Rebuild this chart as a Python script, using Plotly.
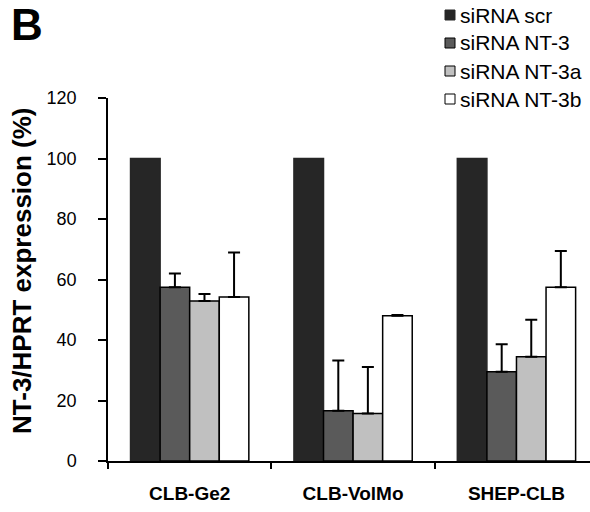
import plotly.graph_objects as go

categories = ["CLB-Ge2", "CLB-VolMo", "SHEP-CLB"]
series_names = ["siRNA scr", "siRNA NT-3", "siRNA NT-3a", "siRNA NT-3b"]
values = {
    "siRNA scr": [100, 100, 100],
    "siRNA NT-3": [57.4, 16.6, 29.5],
    "siRNA NT-3a": [52.9, 15.7, 34.5],
    "siRNA NT-3b": [54.2, 48.0, 57.4],
}
errors = {
    "siRNA scr": [0, 0, 0],
    "siRNA NT-3": [4.6, 16.6, 9.1],
    "siRNA NT-3a": [2.3, 15.4, 12.2],
    "siRNA NT-3b": [14.7, 0.3, 12.0],
}
colors = {
    "siRNA scr": "#262626",
    "siRNA NT-3": "#5a5a5a",
    "siRNA NT-3a": "#c0c0c0",
    "siRNA NT-3b": "#ffffff",
}
y_ticks = [0, 20, 40, 60, 80, 100, 120]

FONT = "Liberation Sans, Arial, sans-serif"
W, H = 590, 512
ML, MR, MT, MB = 108, 0, 98, 51
PW, PH = W - ML - MR, H - MT - MB


def px_x(x):
    return (x - ML) / PW


def px_y(y):
    return (H - MB - y) / PH


fig = go.Figure()
for name in series_names:
    fig.add_trace(go.Bar(
        x=categories,
        y=values[name],
        name=name,
        marker=dict(
            color=colors[name],
            line=dict(color="#262626" if name == "siRNA scr" else "#000000", width=1.5),
        ),
        error_y=dict(
            type="data",
            symmetric=False,
            array=errors[name],
            arrayminus=[0] * len(categories),
            color="#000000",
            thickness=2,
            width=6,
            visible=name != "siRNA scr",
        ),
    ))

shapes = []
annotations = []
for i, name in enumerate(series_names):
    cy = 15 + 28 * i
    shapes.append(dict(
        type="rect", xref="paper", yref="paper",
        x0=px_x(445), x1=px_x(455), y0=px_y(cy + 5), y1=px_y(cy - 5),
        fillcolor=colors[name],
        line=dict(color="#000000" if name != "siRNA scr" else "#262626", width=1),
    ))
    annotations.append(dict(
        text=name, xref="paper", yref="paper",
        x=px_x(458), y=px_y(cy), xanchor="left", yanchor="middle",
        showarrow=False, font=dict(size=21, family=FONT, color="#000000"),
    ))

annotations += [
    dict(
        text="<b>NT-3/HPRT expression (%)</b>",
        xref="paper", yref="paper",
        x=px_x(22), y=px_y(271),
        xanchor="center", yanchor="middle",
        textangle=-90,
        showarrow=False,
        font=dict(size=26, family=FONT),
    ),
    dict(
        text="<b>B</b>",
        xref="paper", yref="paper",
        x=px_x(9), y=px_y(-2),
        xanchor="left", yanchor="top",
        showarrow=False,
        font=dict(size=44, family=FONT),
    ),
]

fig.update_layout(
    width=W,
    height=H,
    margin=dict(l=ML, r=MR, t=MT, b=MB),
    paper_bgcolor="white",
    plot_bgcolor="white",
    barmode="group",
    bargap=0.276,
    bargroupgap=0,
    font=dict(family=FONT, color="#000000", size=18),
    showlegend=False,
    xaxis=dict(
        type="category",
        range=[-0.5, 2.45],
        showline=True,
        linecolor="#000000",
        linewidth=1.5,
        ticks="outside",
        tickson="boundaries",
        ticklen=6,
        tickwidth=1.5,
        tickcolor="#000000",
        tickfont=dict(size=19, family=FONT, weight="bold"),
        ticklabelstandoff=14,
        showgrid=False,
        zeroline=False,
        automargin=False,
    ),
    yaxis=dict(
        range=[0, 120],
        tickvals=y_ticks,
        showline=True,
        linecolor="#000000",
        linewidth=1.5,
        ticks="outside",
        ticklen=8,
        tickwidth=1.5,
        tickcolor="#000000",
        tickfont=dict(size=18, family=FONT),
        ticklabelstandoff=18,
        showgrid=False,
        zeroline=False,
        automargin=False,
    ),
    shapes=shapes,
    annotations=annotations,
)

fig.write_html(
    "out.html",
    config={"displayModeBar": False},
    post_script="document.body.style.margin='0';document.body.style.padding='0';",
)
